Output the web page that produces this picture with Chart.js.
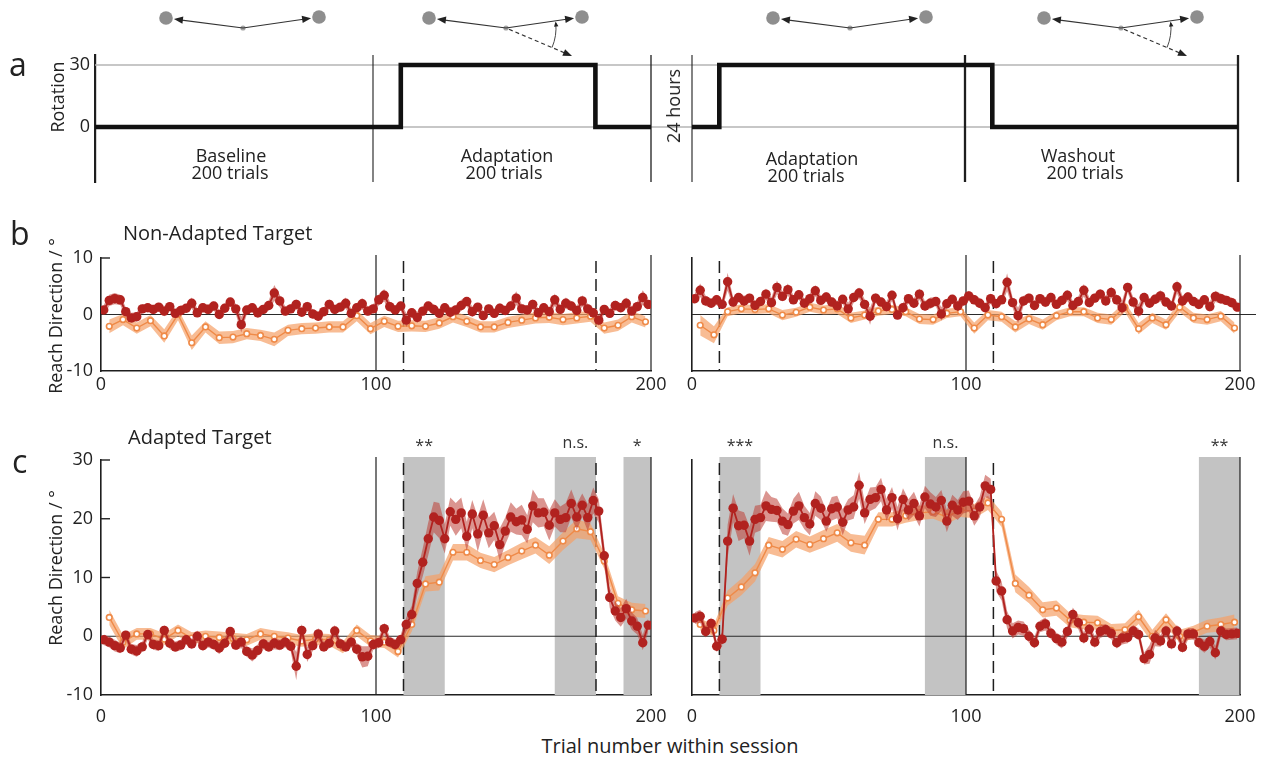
<!DOCTYPE html>
<html><head><meta charset="utf-8">
<script src="https://cdn.jsdelivr.net/npm/chart.js@4.4.1/dist/chart.umd.min.js"></script>
<style>
html,body{margin:0;padding:0;background:#fff;}
#wrap{position:relative;width:1274px;height:765px;overflow:hidden;font-family:"Open Sans",sans-serif;color:#222;}
#wrap canvas{position:absolute;}
.t{position:absolute;white-space:nowrap;}
</style></head>
<body><div id="wrap">
<canvas id="aL" width="672" height="200" style="left:0;top:0"></canvas>
<canvas id="aR" width="602" height="200" style="left:672px;top:0"></canvas>
<canvas id="bL" width="682" height="181" style="left:0;top:220px"></canvas>
<canvas id="bR" width="602" height="181" style="left:672px;top:220px"></canvas>
<canvas id="cL" width="682" height="310" style="left:0;top:420px"></canvas>
<canvas id="cR" width="602" height="310" style="left:672px;top:420px"></canvas>
</div>
<script>
// ---------------- DATA ----------------
const xTickVals = [0, 100, 200];
const yTicksB = [-10, 0, 10];
const yTicksC = [-10, 0, 10, 20, 30];
const yTicksA = [0, 30];

// rotation schedule (panel a)
const rotTrialsDay1 = [0, 110, 110, 180, 180, 200];
const rotValsDay1   = [0, 0, 30, 30, 0, 0];
const rotTrialsDay2 = [0, 10, 10, 110, 110, 200];
const rotValsDay2   = [0, 0, 30, 30, 0, 0];

const redTrials = [1,3,5,7,9,11,13,15,17,19,21,23,25,27,29,31,33,35,37,39,41,43,45,47,49,51,53,55,57,59,61,63,65,67,69,71,73,75,77,79,81,83,85,87,89,91,93,95,97,99,101,103,105,107,109,111,113,115,117,119,121,123,125,127,129,131,133,135,137,139,141,143,145,147,149,151,153,155,157,159,161,163,165,167,169,171,173,175,177,179,181,183,185,187,189,191,193,195,197,199];
const orangeTrials = [3,8,13,18,23,28,33,38,43,48,53,58,63,68,73,78,83,88,93,98,103,108,113,118,123,128,133,138,143,148,153,158,163,168,173,178,183,188,193,198];

// b: non-adapted target, session 1 (left) and session 2 (right)
const redNonAdaptS1 = [0.8,2.5,2.8,2.6,0.5,-0.6,-0.4,1.0,1.2,0.9, 1.3,0.6,1.4,0.2,0.7,1.1,2.0,0.3,1.2,0.9, 1.5,0.0,1.1,2.2,1.0,-1.8,0.8,1.2,0.3,0.9, 1.6,3.8,2.4,0.6,1.0,1.8,0.4,1.4,0.1,-0.3, 0.5,1.8,0.9,1.3,2.0,0.2,1.2,1.9,0.6,1.0, 2.6,3.4,1.4,0.8,1.5,-1.0,0.3,-0.5,0.6,1.5, 0.9,0.2,1.2,0.4,0.8,1.6,2.3,0.5,1.3,-0.2, 1.0,0.2,1.1,0.7,1.5,2.9,1.0,0.8,1.8,0.3, 1.2,0.5,2.6,0.9,2.0,1.5,0.7,2.4,1.0,0.3, -1.0,0.9,0.2,1.6,1.2,2.0,0.6,1.4,3.0,1.8];
const redSemNonAdaptS1 = [0.9,1.0,1.0,0.9,0.8,0.9,0.8,0.8,0.7,0.8, 0.8,0.9,0.8,0.8,0.9,0.8,1.0,0.8,0.8,0.9, 0.8,0.8,0.9,0.8,0.9,1.4,0.8,0.8,0.9,0.8, 0.9,1.4,1.1,0.8,0.8,0.9,0.8,0.9,0.8,0.8, 0.8,0.9,0.8,0.8,1.0,0.8,0.8,1.0,0.8,0.8, 1.0,1.1,0.9,0.8,0.8,1.2,0.8,1.0,0.8,0.8, 0.9,0.8,0.8,0.9,0.8,1.0,0.8,0.9,0.8,0.8, 0.8,0.8,0.9,0.8,0.9,1.2,0.8,0.8,0.9,0.8, 0.8,0.8,1.1,0.8,1.0,0.9,0.8,1.0,0.9,0.8, 1.0,0.8,0.8,0.9,0.8,1.0,0.8,0.9,1.3,1.0];
const orNonAdaptS1 = [-2.1,-0.9,-2.4,-1.1,-3.8,0.0,-5.0,-2.2,-4.1,-4.0, -3.4,-3.7,-4.4,-2.8,-2.5,-2.4,-2.2,-2.2,-0.2,-2.5, -1.2,-2.1,-2.0,-2.1,-1.5,-0.4,-1.2,-2.2,-2.2,-1.4, -1.0,-0.6,-0.5,-0.9,-0.6,-0.3,-2.4,-1.9,-0.4,-1.3];
const orSemNonAdaptS1 = [1.2,1.0,1.0,1.0,1.2,1.0,1.3,1.0,1.1,1.1, 1.0,1.0,1.2,1.0,1.0,1.0,1.0,1.0,1.0,1.0, 1.0,1.0,1.0,1.0,1.0,1.0,1.0,1.0,1.0,1.0, 1.0,1.0,1.0,1.0,1.0,1.0,1.0,1.0,1.0,1.0];

const redNonAdaptS2 = [2.8,4.3,2.4,2.0,2.6,1.8,5.8,2.2,3.0,2.4, 2.9,1.6,2.3,3.6,2.1,4.8,3.2,4.4,2.6,3.5, 2.0,2.8,4.2,2.5,3.1,2.2,1.5,2.7,1.0,3.0, 3.8,1.8,-0.3,2.9,2.2,1.4,3.4,-0.1,1.2,2.8, 2.0,3.6,1.5,2.0,2.3,0.1,1.9,2.7,1.5,2.4, 3.3,2.6,2.0,1.2,2.8,1.9,2.6,5.7,2.1,-0.2, 2.4,2.9,1.6,2.8,2.2,3.0,1.8,2.5,3.4,1.6, 2.3,4.3,2.1,2.9,3.6,2.4,3.9,2.6,1.2,4.8, 2.2,0.6,3.0,2.0,2.7,3.3,2.2,1.5,4.9,2.4, 3.1,2.3,1.8,2.6,1.4,3.2,2.8,2.5,2.1,1.3];
const redSemNonAdaptS2 = [0.9,1.2,0.9,0.8,0.9,0.8,1.6,0.9,0.8,0.9, 0.8,0.9,0.8,1.0,0.9,1.2,0.9,1.1,0.8,0.9, 0.8,0.9,1.0,0.8,0.9,0.8,0.9,0.8,1.1,0.9, 1.0,0.9,1.5,0.9,0.8,0.9,1.0,0.8,0.9,0.8, 0.9,1.0,0.9,1.0,0.8,1.2,0.9,0.8,0.9,0.8, 0.9,0.8,0.9,0.8,0.9,0.8,0.8,1.6,0.9,1.4, 0.9,0.8,0.9,0.8,0.9,0.9,0.8,0.9,1.0,0.8, 0.9,1.1,0.9,0.8,0.9,0.9,1.0,0.9,1.3,0.9, 0.9,1.2,0.9,0.8,0.9,1.0,0.8,0.9,1.2,0.9, 0.9,0.8,0.9,0.8,0.9,1.0,0.9,0.8,0.9,0.9];
const orNonAdaptS2 = [-1.9,-3.6,0.5,1.0,0.9,1.0,-0.1,0.4,1.3,0.8, 1.0,-0.6,-0.1,0.6,0.9,0.5,-0.8,-0.9,0.2,0.5, -2.4,-0.1,-0.4,-2.2,-0.8,-1.8,-0.2,0.5,0.5,-0.6, -0.9,1.3,-2.5,-0.6,-1.8,1.3,-0.6,-0.9,-0.3,-2.4];
const orSemNonAdaptS2 = [1.8,1.5,0.8,0.8,0.8,0.8,0.9,0.8,0.8,0.8, 0.9,0.9,0.8,0.8,0.8,0.8,0.9,0.9,0.8,0.8, 1.0,0.9,0.9,1.0,0.9,0.9,0.8,0.8,0.8,0.9, 0.9,0.9,1.0,0.9,0.9,0.9,0.9,0.9,0.9,1.0];

// c: adapted target
const redAdaptS1 = [-0.6,-1.0,-1.6,-2.0,0.2,-2.2,-2.5,-1.8,0.3,-1.4, -1.6,1.0,-1.2,-1.8,-1.5,-0.6,-1.3,0.0,-1.6,-1.0, -1.4,-2.0,-1.2,0.8,-1.5,-1.0,-2.6,-3.2,-2.4,-1.3, -1.8,-1.2,-1.5,-1.0,-1.7,-5.1,1.0,-3.1,-1.6,0.4, -1.8,-1.2,0.9,-1.3,-1.8,-1.0,-2.2,-3.5,-3.4,-1.4, -1.1,1.3,-1.0,-1.4,-0.6,2.0,3.7,9.0,12.6,16.6, 20.3,19.7,16.6,21.2,19.9,21.0,17.0,20.8,17.4,20.6, 17.6,18.8,15.6,17.9,20.3,19.5,19.8,18.2,22.2,21.0, 21.1,18.9,21.0,19.9,20.2,22.6,20.3,22.3,20.2,23.1, 21.3,13.7,6.6,4.3,3.2,4.7,2.6,1.7,-1.1,1.9];
const redSemAdaptS1 = [0.9,0.9,1.0,0.9,0.8,0.9,1.0,0.9,0.8,0.9, 0.9,0.9,1.0,0.9,0.9,0.8,0.9,1.0,0.9,0.9, 0.9,1.0,0.9,0.8,0.9,1.0,0.9,1.1,1.0,0.9, 0.9,1.0,0.9,0.9,0.9,2.4,1.1,1.3,0.9,1.0, 0.9,0.9,1.0,0.9,0.9,0.9,1.0,1.8,1.7,0.9, 0.9,1.0,0.9,0.9,0.9,1.2,1.5,2.0,2.4,2.8, 2.6,3.0,2.5,2.4,2.8,2.6,2.5,2.4,3.0,2.7, 2.6,2.4,2.8,2.3,2.5,2.2,2.6,2.4,2.8,2.5, 2.4,2.6,2.3,2.2,2.5,2.4,2.2,2.0,2.3,2.2, 2.0,1.8,1.8,1.6,1.6,1.7,1.5,1.4,1.3,1.2];
const orAdaptS1 = [3.2,-1.0,0.4,0.4,-0.5,1.0,-0.3,0.0,-0.2,-0.4, -0.6,0.4,0.0,-0.3,-0.8,-0.5,-0.6,-1.9,1.0,-0.8, -1.0,-2.6,2.0,8.9,9.2,14.3,14.3,12.9,12.2,13.4, 14.5,15.5,13.8,16.2,18.3,17.8,12.8,5.6,4.5,4.3];
const orSemAdaptS1 = [1.3,1.2,1.0,1.0,1.0,1.0,1.0,1.0,1.0,1.0, 1.0,1.0,1.0,1.0,1.0,1.0,1.0,1.0,1.0,1.0, 1.0,1.0,1.2,1.3,1.4,1.4,1.4,1.3,1.3,1.3, 1.4,1.4,1.5,1.5,1.6,1.4,1.3,1.2,1.2,1.2];

const redAdaptS2 = [3.1,3.4,0.8,2.2,-1.7,-0.5,16.2,21.8,18.8,18.9, 16.2,19.9,20.2,22.2,21.6,21.4,19.6,19.0,21.3,22.2, 20.2,19.1,22.6,21.8,19.6,21.7,22.0,19.4,21.5,22.0, 25.7,21.0,23.3,23.6,25.0,21.5,23.6,20.0,23.3,21.5, 22.6,20.5,23.7,22.5,22.0,23.1,19.6,22.3,21.5,22.8, 23.0,20.5,22.0,25.6,25.0,9.4,7.7,2.8,0.9,1.5, 1.3,0.0,-1.1,1.7,2.1,0.5,-0.4,-1.0,0.8,3.7, 2.3,-0.3,1.2,-1.0,0.8,1.1,0.5,-1.1,-0.3,-0.2, 0.9,0.3,-3.8,-3.1,-0.3,-0.8,0.9,-1.3,0.9,-1.9, 0.4,0.4,-1.1,-1.7,-0.9,-2.8,0.9,0.3,0.4,0.5];
const redSemAdaptS2 = [1.0,1.1,1.0,1.0,1.0,1.2, 2.8,2.4,2.6,2.2,2.5,2.3,2.2,2.6,2.1,2.0, 2.2,1.9,2.1,2.4,2.0,1.9,2.1,2.0,1.8,2.0, 1.9,2.2,1.8,2.0,2.3,1.9,2.0,1.8,2.0,1.9, 1.8,2.0,1.9,1.8,2.0,1.8,1.9,2.0,1.7,1.8, 1.9,1.8,1.7,1.9,1.8,1.7,1.8,1.9,1.8, 1.8,1.6,1.5,1.3,1.2,1.2,1.1,1.0,1.0,1.1, 1.0,1.0,1.1,1.0,1.2,1.1,1.0,1.0,1.0,1.1, 1.0,1.0,1.0,1.1,1.0,1.0,1.0,1.0,1.6,1.4, 1.0,1.0,1.0,1.1,1.0,1.0,1.0,1.0,1.1,1.0, 1.2,1.0,1.0,1.0,1.0];
const orAdaptS2 = [2.0,1.0,6.5,8.4,10.8,15.5,14.8,16.5,15.6,16.6, 17.6,15.9,15.5,19.9,19.9,20.5,21.0,21.2,20.3,21.5, 21.3,22.7,19.9,9.0,7.0,4.5,4.8,2.7,2.4,2.3, 1.0,1.1,3.3,0.0,2.8,0.0,0.7,1.7,2.0,2.4];
const orSemAdaptS2 = [1.0,1.0,1.3,1.4,1.5,1.4,1.4,1.4,1.4,1.5, 1.5,1.5,1.6,1.2,1.2,1.2,1.2,1.2,1.2,1.2, 1.2,1.2,1.3,1.5,1.4,1.3,1.3,1.2,1.2,1.2, 1.1,1.1,1.2,1.1,1.1,1.1,1.1,1.1,1.2,1.3];

// shaded comparison windows and significance labels (panel c)
const shadeS1 = [[110,125],[165,180],[190,200]];
const starsS1 = ["**","n.s.","*"];
const shadeS2 = [[10,25],[85,100],[185,200]];
const starsS2 = ["***","n.s.","**"];

// text
const texts = [
  {t:"a", x:9, base:76, size:32},
  {t:"b", x:10, base:245, size:32},
  {t:"c", x:12, base:473, size:32},
  {t:"Non-Adapted Target", x:123, base:241, size:20},
  {t:"Adapted Target", x:128, base:445, size:20},
  {t:"Baseline", cx:231, base:162, size:18},
  {t:"200 trials", cx:230, base:179, size:18},
  {t:"Adaptation", cx:507, base:162, size:18},
  {t:"200 trials", cx:504, base:179, size:18},
  {t:"Adaptation", cx:812, base:165, size:18},
  {t:"200 trials", cx:806, base:182, size:18},
  {t:"Washout", cx:1078, base:162, size:18},
  {t:"200 trials", cx:1085, base:179, size:18},
  {t:"Trial number within session", cx:670, base:754, size:20},
  {t:"Rotation", rx:57, ry:97, size:18},
  {t:"24 hours", rx:673, ry:106, size:18},
  {t:"Reach Direction / °", rx:55, ry:316, size:18},
  {t:"Reach Direction / °", rx:55, ry:568, size:18}
];

// ---------------- STYLE / DRAWING ----------------
const RED = "#b1221f", RED_BAND = "rgba(190,62,52,0.55)";
const OR = "#ef8a48", OR_BAND = "rgba(245,160,102,0.7)";
const GREY = "#c3c3c3";
Chart.defaults.font.family = '"Open Sans", sans-serif';
Chart.defaults.color = "#222";

const wrap = document.getElementById("wrap");
texts.forEach(o => {
  const d = document.createElement("div");
  d.className = "t";
  d.textContent = o.t;
  d.style.fontSize = o.size + "px";
  d.style.lineHeight = o.size + "px";
  if (o.rx !== undefined) {
    d.style.left = o.rx + "px"; d.style.top = o.ry + "px";
    d.style.transform = "translate(-50%,-50%) rotate(-90deg)";
  } else {
    d.style.top = (o.base - o.size * 0.888) + "px";
    if (o.cx !== undefined) { d.style.left = o.cx + "px"; d.style.transform = "translateX(-50%)"; }
    else d.style.left = o.x + "px";
  }
  wrap.appendChild(d);
});

function arrowHead(ctx, x, y, ang, len, w) {
  const c = Math.cos(ang), s = Math.sin(ang);
  ctx.beginPath();
  ctx.moveTo(x, y);
  ctx.lineTo(x - len * c - w * s, y - len * s + w * c);
  ctx.lineTo(x - len * c + w * s, y - len * s - w * c);
  ctx.closePath(); ctx.fill();
}
function drawIcon(ctx, cx, rot) {
  const cy = 28;
  const L = [cx - 77, 18], R = [cx + 76, 17];
  ctx.fillStyle = "#8e8e8e";
  [L, R].forEach(p => { ctx.beginPath(); ctx.arc(p[0], p[1], 6.8, 0, Math.PI * 2); ctx.fill(); });
  ctx.fillStyle = "#a5a5a5";
  ctx.beginPath(); ctx.arc(cx, cy, 2.6, 0, Math.PI * 2); ctx.fill();
  ctx.strokeStyle = "#333"; ctx.fillStyle = "#222"; ctx.lineWidth = 1.2;
  [L, R].forEach(p => {
    const ang = Math.atan2(p[1] - cy, p[0] - cx);
    const d = Math.hypot(p[0] - cx, p[1] - cy) - 8;
    const ex = cx + d * Math.cos(ang), ey = cy + d * Math.sin(ang);
    ctx.beginPath(); ctx.moveTo(cx, cy); ctx.lineTo(ex - 6 * Math.cos(ang), ey - 6 * Math.sin(ang)); ctx.stroke();
    arrowHead(ctx, ex, ey, ang, 9, 3.6);
  });
  if (rot) {
    const ang = Math.atan2(28, 66), ex = cx + 66, ey = cy + 28;
    ctx.setLineDash([4, 3]);
    ctx.beginPath(); ctx.moveTo(cx + 3, cy + 1.3); ctx.lineTo(ex - 7 * Math.cos(ang), ey - 7 * Math.sin(ang)); ctx.stroke();
    ctx.setLineDash([]);
    arrowHead(ctx, ex, ey, ang, 9, 3.6);
    ctx.lineWidth = 0.9;
    ctx.beginPath(); ctx.arc(cx, cy, 50, 0.40, -0.10, true); ctx.stroke();
    const a = -0.13, px = cx + 50 * Math.cos(a), py = cy + 50 * Math.sin(a);
    arrowHead(ctx, px, py, Math.atan2(-Math.cos(a), Math.sin(a)), 5, 2.2);
  }
}

const decor = {
  id: "decor",
  beforeDatasetsDraw(chart, args, o) {
    const { ctx, chartArea: ca, scales: { x, y } } = chart;
    const top = ca.top - (o.ext || 0), bot = ca.bottom;
    ctx.save();
    (o.shade || []).forEach(r => {
      const x0 = x.getPixelForValue(r[0]), x1 = x.getPixelForValue(r[1]);
      ctx.fillStyle = GREY; ctx.fillRect(x0, top, x1 - x0, bot - top);
    });
    (o.hlines || []).forEach(h => {
      const yy = y.getPixelForValue(h.y);
      ctx.strokeStyle = h.color; ctx.lineWidth = h.w;
      ctx.beginPath();
      ctx.moveTo(h.fromCanvas ? 0 : ca.left, yy);
      ctx.lineTo(h.toCanvas ? chart.width : ca.right + (h.ext || 0), yy);
      ctx.stroke();
    });
    (o.vlines || []).forEach(v => {
      const xx = x.getPixelForValue(v.x);
      ctx.strokeStyle = "#1e1e1e"; ctx.lineWidth = v.w || 1.2;
      ctx.setLineDash(v.dash ? [12, 6] : []);
      ctx.beginPath(); ctx.moveTo(xx, v.dash ? ca.top + 3 : top); ctx.lineTo(xx, bot); ctx.stroke();
    });
    ctx.setLineDash([]);
    (o.inTicks || []).forEach(t => {
      const yy = y.getPixelForValue(t);
      ctx.strokeStyle = "#222"; ctx.lineWidth = 1.4;
      ctx.beginPath(); ctx.moveTo(ca.left, yy); ctx.lineTo(ca.left + 9, yy); ctx.stroke();
    });
    ctx.restore();
  },
  afterDraw(chart, args, o) {
    const { ctx, chartArea: ca, scales: { x } } = chart;
    ctx.save();
    (o.shade || []).forEach((r, i) => {
      if (!o.labels) return;
      const s = o.labels[i];
      const xc = (x.getPixelForValue(r[0]) + x.getPixelForValue(r[1])) / 2;
      ctx.font = '16px "Open Sans"'; ctx.fillStyle = "#333"; ctx.textAlign = "center"; ctx.textBaseline = "alphabetic";
      ctx.fillText(s, xc, s.indexOf("*") >= 0 ? ca.top - 9 : ca.top - 12);
    });
    (o.icons || []).forEach(ic => drawIcon(ctx, ic.cx, ic.rot));
    ctx.restore();
  }
};

function baseOptions(p) {
  return {
    responsive: false, animation: false, events: [],
    layout: { autoPadding: false, padding: p.pad },
    plugins: { legend: { display: false }, tooltip: { enabled: false }, decor: p.decor },
    scales: {
      x: {
        type: "linear", min: p.xMin, max: 200, display: p.xDisplay,
        grid: { display: false, drawTicks: false },
        border: { display: true, color: "#1e1e1e", width: 1.6 },
        ticks: { font: { size: 18 }, color: "#222", padding: p.xPad, maxRotation: 0, autoSkip: false },
        afterBuildTicks: sc => { sc.ticks = xTickVals.map(v => ({ value: v })); },
        afterFit: sc => { sc.height = p.xH; }
      },
      y: {
        type: "linear", min: p.yMin, max: p.yMax,
        grid: { display: false, drawTicks: false },
        border: { display: p.yBorder, color: "#1e1e1e", width: p.yBorderW || 1.6 },
        ticks: { display: p.yTicksShow, font: { size: 18 }, color: "#222", padding: p.yPad || 8 },
        afterBuildTicks: sc => { sc.ticks = p.yTicks.map(v => ({ value: v })); },
        afterFit: sc => { sc.width = p.yW; }
      }
    }
  };
}

function seriesChart(id, s, p) {
  const pts = (tr, v, sd, k) => tr.map((t, i) => ({ x: t, y: v[i] + k * (sd ? sd[i] : 0) }));
  const datasets = [
    { data: pts(redTrials, s.red, s.redSem, 1), borderWidth: 0, pointRadius: 0, fill: false, order: 1 },
    { data: pts(redTrials, s.red, s.redSem, -1), borderWidth: 0, pointRadius: 0, fill: "-1", backgroundColor: RED_BAND, order: 1 },
    { data: pts(redTrials, s.red, null, 0), borderColor: RED, borderWidth: 1.8, pointRadius: 4.7, pointBackgroundColor: RED, pointBorderWidth: 0, fill: false, order: 0 },
    { data: pts(orangeTrials, s.or, s.orSem, 1), borderWidth: 0, pointRadius: 0, fill: false, order: 3 },
    { data: pts(orangeTrials, s.or, s.orSem, -1), borderWidth: 0, pointRadius: 0, fill: "-1", backgroundColor: OR_BAND, order: 3 },
    { data: pts(orangeTrials, s.or, null, 0), borderColor: OR, borderWidth: 1.4, pointRadius: 2.8, pointBackgroundColor: "#fff", pointBorderColor: OR, pointBorderWidth: 1.6, fill: false, order: 2 }
  ];
  return new Chart(document.getElementById(id), { type: "line", data: { datasets }, options: baseOptions(p), plugins: [decor] });
}

// panel a
function rotChart(id, tr, vals, p) {
  const data = tr.map((t, i) => ({ x: t, y: vals[i] }));
  return new Chart(document.getElementById(id), {
    type: "line",
    data: { datasets: [{ data, borderColor: "#111", borderWidth: 4.6, pointRadius: 0, fill: false, borderJoinStyle: "miter", borderCapStyle: "butt" }] },
    options: baseOptions(p), plugins: [decor]
  });
}
const aY = { yMin: -26.6, yMax: 34.84, yTicks: yTicksA, xMin: 0, xDisplay: false, xH: 0 };
rotChart("aL", rotTrialsDay1, rotValsDay1, Object.assign({}, aY, {
  pad: { left: 50, top: 55, right: 21, bottom: 18 }, yW: 45, yBorder: true, yBorderW: 2.2, yTicksShow: true, yPad: 5,
  decor: {
    hlines: [{ y: 30, color: "#b4b4b4", w: 1.5, toCanvas: true }, { y: 0, color: "#b4b4b4", w: 1.5, toCanvas: true }],
    vlines: [{ x: 100, w: 1.1 }, { x: 200, w: 1.3 }],
    icons: [{ cx: 243, rot: false }, { cx: 506, rot: true }]
  }
}));
rotChart("aR", rotTrialsDay2, rotValsDay2, Object.assign({}, aY, {
  pad: { left: 0, top: 55, right: 36, bottom: 18 }, yW: 20, yBorder: false, yTicksShow: false,
  decor: {
    hlines: [{ y: 30, color: "#b4b4b4", w: 1.5, fromCanvas: true }, { y: 0, color: "#b4b4b4", w: 1.5, fromCanvas: true }],
    vlines: [{ x: 0, w: 1.1 }, { x: 100, w: 2.3 }, { x: 200, w: 2.3 }],
    icons: [{ cx: 178, rot: false }, { cx: 449, rot: true }]
  }
}));

// panel b
const bCommon = { yMin: -10, yMax: 10, yTicks: yTicksB, xMin: 0, xDisplay: true, xH: 30, xPad: 3, yBorder: true };
seriesChart("bL", { red: redNonAdaptS1, redSem: redSemNonAdaptS1, or: orNonAdaptS1, orSem: orSemNonAdaptS1 },
  Object.assign({}, bCommon, { pad: { left: 50, top: 38, right: 31, bottom: 0 }, yW: 51, yTicksShow: true,
    decor: { ext: 3, hlines: [{ y: 0, color: "#2a2a2a", w: 1.2 }], vlines: [{ x: 100 }, { x: 200 }, { x: 110, dash: true, w: 1.5 }, { x: 180, dash: true, w: 1.5 }], inTicks: [10] } }));
seriesChart("bR", { red: redNonAdaptS2, redSem: redSemNonAdaptS2, or: orNonAdaptS2, orSem: orSemNonAdaptS2 },
  Object.assign({}, bCommon, { pad: { left: 0, top: 38, right: 34, bottom: 0 }, yW: 20, yTicksShow: false,
    decor: { ext: 3, hlines: [{ y: 0, color: "#2a2a2a", w: 1.2, ext: 16 }], vlines: [{ x: 100 }, { x: 200 }, { x: 10, dash: true, w: 1.5 }, { x: 110, dash: true, w: 1.5 }] } }));

// panel c
const cCommon = { yMin: -10, yMax: 30, yTicks: yTicksC, xMin: 0, xDisplay: true, xH: 35, xPad: 11, yBorder: true };
seriesChart("cL", { red: redAdaptS1, redSem: redSemAdaptS1, or: orAdaptS1, orSem: orSemAdaptS1 },
  Object.assign({}, cCommon, { pad: { left: 50, top: 40, right: 31, bottom: 0 }, yW: 51, yTicksShow: true,
    decor: { ext: 3, shade: shadeS1, labels: starsS1, hlines: [{ y: 0, color: "#2a2a2a", w: 1.2 }], vlines: [{ x: 100 }, { x: 200 }, { x: 110, dash: true, w: 1.5 }, { x: 180, dash: true, w: 1.5 }], inTicks: [10, 20, 30] } }));
seriesChart("cR", { red: redAdaptS2, redSem: redSemAdaptS2, or: orAdaptS2, orSem: orSemAdaptS2 },
  Object.assign({}, cCommon, { pad: { left: 0, top: 40, right: 34, bottom: 0 }, yW: 20, yTicksShow: false,
    decor: { ext: 3, shade: shadeS2, labels: starsS2, hlines: [{ y: 0, color: "#2a2a2a", w: 1.2 }], vlines: [{ x: 100 }, { x: 200 }, { x: 10, dash: true, w: 1.5 }, { x: 110, dash: true, w: 1.5 }] } }));
</script>
</body></html>
